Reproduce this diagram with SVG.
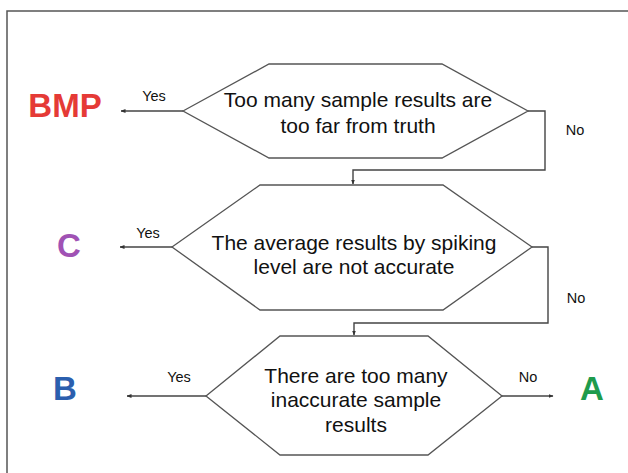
<svg xmlns="http://www.w3.org/2000/svg" width="628" height="473" viewBox="0 0 628 473">
<style>
.hex{fill:#fff;stroke:#555;stroke-width:1.3}
.q{font-family:"Liberation Sans",Arial,sans-serif;font-size:21px;fill:#111;text-anchor:middle}
.lbl{font-family:"Liberation Sans",Arial,sans-serif;font-size:14.5px;fill:#111;text-anchor:middle}
.out{font-family:"Liberation Sans",Arial,sans-serif;font-size:33px;font-weight:bold;text-anchor:middle}
.conn{fill:none;stroke:#444;stroke-width:1.4}
</style>
<defs>
<marker id="ah" viewBox="0 0 10 10" refX="9" refY="5" markerWidth="5" markerHeight="5" orient="auto" markerUnits="userSpaceOnUse">
<path d="M0,1 L10,5 L0,9 Z" fill="#333"/>
</marker>
</defs>
<rect x="7" y="11" width="640" height="480" fill="#fff" stroke="#555" stroke-width="1.5"/>
<g id="connectors">
<path class="conn" d="M183,111 H121" marker-end="url(#ah)"/>
<path class="conn" d="M528,111 H545 V170 H353 V184" marker-end="url(#ah)"/>
<path class="conn" d="M172,247 H120" marker-end="url(#ah)"/>
<path class="conn" d="M532,247 H548 V323 H354 V335" marker-end="url(#ah)"/>
<path class="conn" d="M206,396 H127" marker-end="url(#ah)"/>
<path class="conn" d="M502,396 H553" marker-end="url(#ah)"/>
<text class="lbl" x="154" y="101">Yes</text>
<text class="lbl" x="575" y="135">No</text>
<text class="lbl" x="148" y="238">Yes</text>
<text class="lbl" x="576" y="303">No</text>
<text class="lbl" x="179" y="382">Yes</text>
<text class="lbl" x="528" y="382">No</text>
</g>
<g id="q1">
<polygon class="hex" points="183,111 269,64 442,64 528,111 442,158 269,158"/>
<text class="q" x="358" y="107">Too many sample results are</text>
<text class="q" x="358" y="133">too far from truth</text>
</g>
<g id="q2">
<polygon class="hex" points="172,247 260,185 443,185 532,247 443,310 260,310"/>
<text class="q" x="354" y="250">The average results by spiking</text>
<text class="q" x="354" y="274">level are not accurate</text>
</g>
<g id="q3">
<polygon class="hex" points="206,396 280,336 428,336 502,396 428,455 280,455"/>
<text class="q" x="356" y="383">There are too many</text>
<text class="q" x="356" y="407">inaccurate sample</text>
<text class="q" x="356" y="432">results</text>
</g>
<g id="bmp"><text class="out" x="65" y="117" fill="#e53a36">BMP</text></g>
<g id="c"><text class="out" x="69" y="257" fill="#a052b4">C</text></g>
<g id="b"><text class="out" x="65" y="400" fill="#2b5fae">B</text></g>
<g id="a"><text class="out" x="592" y="400" fill="#1e9b4c">A</text></g>
</svg>
